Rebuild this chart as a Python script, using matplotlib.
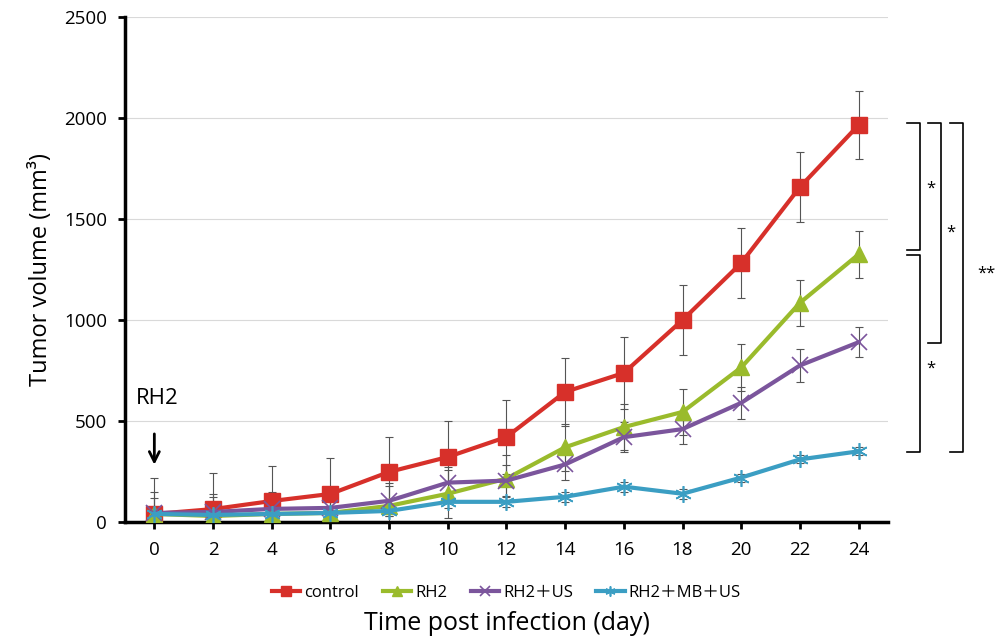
import matplotlib
matplotlib.use('Agg')
from matplotlib import pyplot as plt

days = [0, 2, 4, 6, 8, 10, 12, 14, 16, 18, 20, 22, 24]

control = [40, 64, 104, 139, 248, 322, 421, 644, 738, 1000, 1282, 1658, 1965]
control_err = [180, 180, 175, 180, 175, 180, 185, 170, 180, 175, 175, 175, 170]

rh2 = [40, 30, 40, 45, 80, 140, 215, 370, 470, 545, 765, 1085, 1325]
rh2_err = [110, 110, 110, 115, 115, 120, 115, 115, 115, 115, 115, 115, 115]

rh2_us = [45, 50, 65, 70, 105, 195, 205, 285, 420, 460, 590, 775, 890]
rh2_us_err = [75, 75, 75, 75, 75, 75, 75, 75, 75, 75, 80, 80, 75]

rh2_mb_us = [40, 35, 40, 45, 55, 100, 100, 125, 175, 140, 220, 310, 350]
rh2_mb_us_err = [25, 25, 25, 25, 25, 30, 25, 25, 25, 25, 20, 20, 20]

labels = ['control', 'RH2', 'RH2＋US', 'RH2＋MB＋US']

plt.rcParams['font.family'] = ['Open Sans', 'Noto Sans CJK SC', 'DejaVu Sans']

fig = plt.figure(figsize=(9.96, 6.44), dpi=100)
ax = fig.add_axes([0.1255, 0.1894, 0.766, 0.7842])

series = [
    (control, control_err, '#d7302a', 's', 11, labels[0]),
    (rh2, rh2_err, '#9abb2c', '^', 11, labels[1]),
    (rh2_us, rh2_us_err, '#7b559c', 'x', 12, labels[2]),
    (rh2_mb_us, rh2_mb_us_err, '#3b9ec3', (6, 2, 0), 12, labels[3]),
]

# error bars first so the lines sit on top
for vals, err, col, mk, ms, lab in series:
    ax.errorbar(days, vals, yerr=err, fmt='none', ecolor='#555555',
                elinewidth=0.8, capsize=3, capthick=0.8, zorder=2)

for vals, err, col, mk, ms, lab in series:
    ax.plot(days, vals, color=col, marker=mk, markersize=ms, linewidth=3,
            markeredgewidth=1.2 if mk in ('x', (6, 2, 0)) else 1,
            label=lab, zorder=3)

ax.set_xlim(-1, 25)
ax.set_ylim(0, 2500)
ax.set_xticks(days)
ax.set_yticks([0, 500, 1000, 1500, 2000, 2500])
ax.yaxis.grid(True, color='#d9d9d9', linewidth=0.8)
ax.set_axisbelow(True)
for s in ['top', 'right']:
    ax.spines[s].set_visible(False)
ax.spines['left'].set_linewidth(2.5)
ax.spines['bottom'].set_linewidth(2.5)
ax.tick_params(axis='both', direction='out', width=2, length=5, labelsize=13.5)
ax.tick_params(axis='x', pad=9)
ax.tick_params(axis='y', pad=8)

ax.set_ylabel('Tumor volume (mm³)', fontsize=17, labelpad=8)
ax.set_xlabel('Time post infection (day)', fontsize=18, labelpad=37)

ax.legend(loc='upper center', bbox_to_anchor=(0.5, -0.095), ncol=4,
          frameon=False, fontsize=12, handlelength=1.7, handletextpad=0.25,
          columnspacing=1.4, markerscale=0.6)

# RH2 arrow
ax.annotate('', xy=(0, 270), xytext=(0, 450),
            arrowprops=dict(arrowstyle='->', color='black', lw=2, mutation_scale=18))
ax.text(0.1, 610, 'RH2', fontsize=16, ha='center', va='center')

# significance brackets
def bracket(x, y0, y1, w=0.45):
    ax.plot([x - w, x, x, x - w], [y1, y1, y0, y0], color='black',
            linewidth=1.2, clip_on=False)

bracket(26.1, 1345, 1975)
bracket(26.1, 345, 1320)
bracket(26.8, 885, 1975)
bracket(27.55, 345, 1975)
ax.text(26.45, 1650, '*', fontsize=12, ha='center', va='center')
ax.text(27.15, 1430, '*', fontsize=12, ha='center', va='center')
ax.text(28.35, 1230, '**', fontsize=12, ha='center', va='center')
ax.text(26.45, 760, '*', fontsize=12, ha='center', va='center')

plt.savefig('out.png', dpi=100)
